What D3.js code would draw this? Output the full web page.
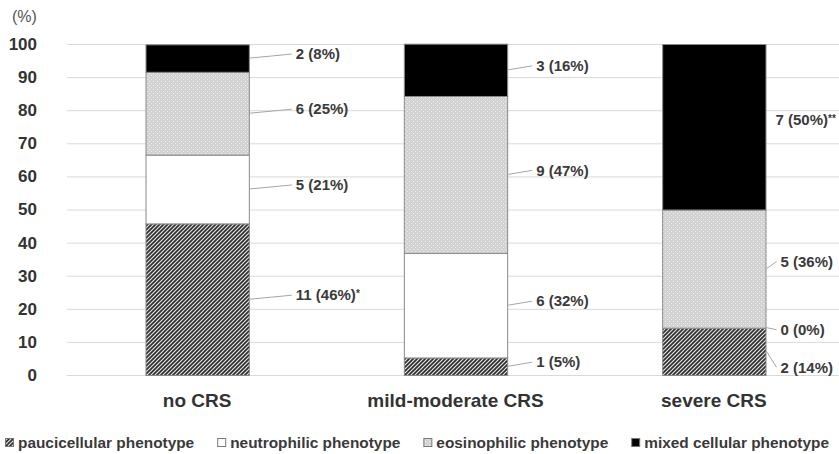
<!DOCTYPE html>
<html>
<head>
<meta charset="utf-8">
<script src="https://cdn.jsdelivr.net/npm/d3@7"></script>
<style>
  body { margin: 0; background: #fff; }
  text { font-family: "Liberation Sans", Arial, sans-serif; }
</style>
</head>
<body>
<div id="chart"></div>
<script>
const categories = ["no CRS", "mild-moderate CRS", "severe CRS"]
const seriesNames = ["paucicellular phenotype", "neutrophilic phenotype", "eosinophilic phenotype", "mixed cellular phenotype"]
// percent of each group
const pauci = [45.8, 5.3, 14.3]
const neutro = [20.8, 31.6, 0]
const eosino = [25.0, 47.4, 35.7]
const mixed = [8.3, 15.8, 50.0]
// label text, n (%)
const pauciLabels = ["11 (46%)*", "1 (5%)", "2 (14%)"]
const neutroLabels = ["5 (21%)", "6 (32%)", "0 (0%)"]
const eosinoLabels = ["6 (25%)", "9 (47%)", "5 (36%)"]
const mixedLabels = ["2 (8%)", "3 (16%)", "7 (50%)**"]
const yTicks = [0, 10, 20, 30, 40, 50, 60, 70, 80, 90, 100]

const W = 839, H = 454
const svg = d3.select("#chart").append("svg")
    .attr("width", W)
    .attr("height", H)

// patterns
const defs = svg.append("defs")
const hatch = defs.append("pattern")
    .attr("id", "hatch")
    .attr("patternUnits", "userSpaceOnUse")
    .attr("width", 4).attr("height", 4)
hatch.append("rect").attr("width", 4).attr("height", 4).attr("fill", "#e6e6e6")
hatch.append("path")
    .attr("d", "M-1,1 l2,-2 M0,4 l4,-4 M3,5 l2,-2")
    .attr("stroke", "#2e2e2e")
    .attr("stroke-width", 1.7)

const dots = defs.append("pattern")
    .attr("id", "dots")
    .attr("patternUnits", "userSpaceOnUse")
    .attr("width", 4).attr("height", 4)
dots.append("rect").attr("width", 4).attr("height", 4).attr("fill", "#d2d2d2")
dots.append("rect").attr("x", 1).attr("y", 1).attr("width", 1).attr("height", 1).attr("fill", "#f4f4f4")
dots.append("rect").attr("x", 3).attr("y", 3).attr("width", 1).attr("height", 1).attr("fill", "#ececec")

const fills = ["url(#hatch)", "#ffffff", "url(#dots)", "#000000"]

const x = d3.scaleBand()
    .domain(categories)
    .range([68, 843])
    .paddingInner(0.6)
    .paddingOuter(0.3)

const y = d3.scaleLinear()
    .domain([0, 100])
    .range([375, 44])

// gridlines
svg.append("g").selectAll("line").data(yTicks).enter()
    .append("line")
    .attr("x1", 67).attr("x2", W)
    .attr("y1", d => y(d) + 0.5).attr("y2", d => y(d) + 0.5)
    .attr("stroke", "#d9d9d9")
    .attr("stroke-width", 1)

// y axis labels
const yAxis = svg.append("g")
    .attr("transform", "translate(67,0)")
    .call(d3.axisLeft(y).tickValues(yTicks).tickSize(0).tickPadding(30))
yAxis.select(".domain").remove()
yAxis.selectAll("text")
    .attr("font-size", 17)
    .attr("font-weight", "bold")
    .attr("fill", "#333")
    .style("font-family", "'Liberation Sans', Arial, sans-serif")

svg.append("text")
    .attr("x", 12).attr("y", 22)
    .attr("font-size", 16)
    .attr("fill", "#555")
    .text("(%)")

// stack
const rows = categories.map((c, i) => ({
    cat: c,
    pauci: pauci[i], neutro: neutro[i], eosino: eosino[i], mixed: mixed[i]
}))
const keys = ["pauci", "neutro", "eosino", "mixed"]
const labelSets = [pauciLabels, neutroLabels, eosinoLabels, mixedLabels]
const stack = d3.stack().keys(keys)(rows)

const layers = svg.append("g").selectAll("g").data(stack).enter()
    .append("g")
    .attr("fill", (d, i) => fills[i])

layers.selectAll("rect").data(d => d).enter()
    .append("rect")
    .attr("x", d => x(d.data.cat) + 0.5)
    .attr("y", d => y(d[1]) + 0.5)
    .attr("width", x.bandwidth())
    .attr("height", d => Math.max(0, y(d[0]) - y(d[1])))
    .attr("stroke", "#8a8a8a")
    .attr("stroke-width", 1)

// data labels with leader lines
const labelGap = [46, 28, 14] // text distance from bar edge per group
const nudge = { "2-3": -7, "2-2": -7, "2-1": 2, "2-0": 16 } // severe group spread
const labels = svg.append("g")
stack.forEach((layer, k) => {
    layer.forEach((d, i) => {
        const mid = y((d[0] + d[1]) / 2)
        const right = x(d.data.cat) + x.bandwidth() + 1
        const key = i + "-" + k
        const ty = mid + (nudge[key] !== undefined ? nudge[key] : -4)
        let tx = right + labelGap[i]
        if (key === "2-3") tx = right + 9
        else {
            labels.append("line")
                .attr("x1", right).attr("y1", mid)
                .attr("x2", tx - 4).attr("y2", ty)
                .attr("stroke", "#a6a6a6")
                .attr("stroke-width", 1)
        }
        const txt = labelSets[k][i]
        const star = txt.match(/\*+$/)
        const t = labels.append("text")
            .attr("x", tx).attr("y", ty)
            .attr("dy", "0.35em")
            .attr("font-size", 15)
            .attr("font-weight", "bold")
            .attr("fill", "#3a3a3a")
            .text(star ? txt.replace(/\*+$/, "") : txt)
        if (star) {
            t.append("tspan")
                .attr("font-size", 10)
                .attr("dy", "-0.3em")
                .text(star[0])
        }
    })
})

// category labels
svg.append("g").selectAll("text").data(categories).enter()
    .append("text")
    .attr("x", d => x(d) + x.bandwidth() / 2)
    .attr("y", 400)
    .attr("dy", "0.35em")
    .attr("text-anchor", "middle")
    .attr("font-size", 19)
    .attr("font-weight", "bold")
    .attr("fill", "#333")
    .text(d => d)

// legend
const legend = svg.append("g")
let lx = 5
seriesNames.forEach((name, i) => {
    legend.append("rect")
        .attr("x", lx + 0.5).attr("y", 438.5)
        .attr("width", 8).attr("height", 8)
        .attr("fill", fills[i])
        .attr("stroke", "#777")
    const t = legend.append("text")
        .attr("x", lx + 13).attr("y", 443)
        .attr("dy", "0.35em")
        .attr("font-size", 15.4)
        .attr("font-weight", "bold")
        .attr("fill", "#3a3a3a")
        .text(name)
    lx += 13 + t.node().getComputedTextLength() + 23
})
</script>
</body>
</html>
